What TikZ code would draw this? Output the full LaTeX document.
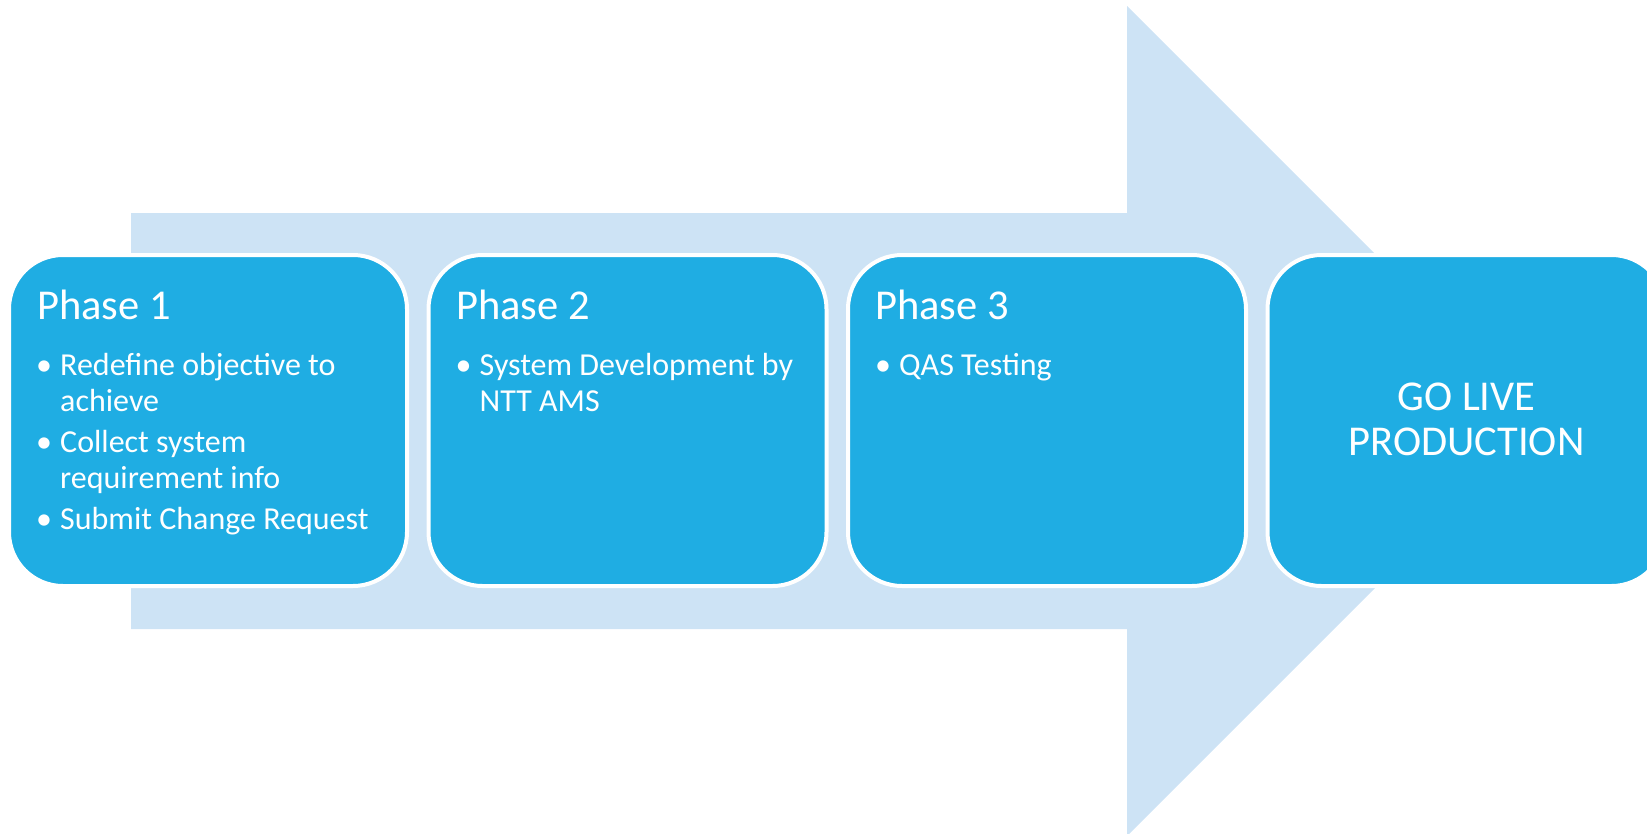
\documentclass[tikz,border=0pt]{standalone}
\usepackage{fontspec}
\setmainfont{Carlito}
\usepackage{tikz}
\definecolor{phaseblue}{RGB}{31,173,227}
\definecolor{arrowblue}{RGB}{205,227,245}

\begin{document}
\begin{tikzpicture}[line cap=round,line join=round,x=1pt,y=-1pt,
    phasebox/.style={fill=phaseblue,draw=white,line width=4pt,rounded corners=54pt,
      minimum width=398pt,minimum height=331pt,inner sep=0pt},
    headtext/.style={text=white,inner sep=0pt,anchor=base west,font=\fontsize{42.5}{45}\selectfont},
    itemtext/.style={text=white,inner sep=0pt,anchor=base west,font=\fontsize{32}{36}\selectfont},
    dottext/.style={text=white,inner sep=0pt,anchor=base,font=\fontsize{32}{36}\selectfont}]
  \useasboundingbox (0,0) rectangle (1647,833);
  \clip (0,0) rectangle (1647,833);

  % big arrow behind the phases
  \fill[arrowblue] (131,213) -- (1127,213) -- (1127,6) -- (1542,421) -- (1127,836) -- (1127,629) -- (131,629) -- cycle;

  \foreach \x/\n in {208/1,627.5/2,1047/3,1466.5/4}{
    \node[phasebox] (box\n) at (\x,420.5) {};
  }
  \foreach \x/\n in {37/1,456/2,875/3}{
    \node[headtext] (head\n) at (\x,319) {Phase \n};
  }

  \foreach \x/\y [count=\i] in {44/375,44/452,44/529,463.5/375,883/375}{
    \node[dottext] (dot\i) at (\x,\y) {\textbullet};
  }
  \foreach \x/\y/\t [count=\i] in {60/375/Redefine objective to,60/411/achieve,
      60/452/Collect system,60/488/requirement info,60/529/Submit Change Request,
      479.5/375/System Development by,479.5/411/NTT AMS,899/375/QAS Testing}{
    \node[itemtext] (line\i) at (\x,\y) {\t};
  }

  \node[text=white,inner sep=0pt,align=center,font=\fontsize{42.5}{45}\selectfont] (golive) at (1466.5,419.5) {GO LIVE\\PRODUCTION};
\end{tikzpicture}
\end{document}
